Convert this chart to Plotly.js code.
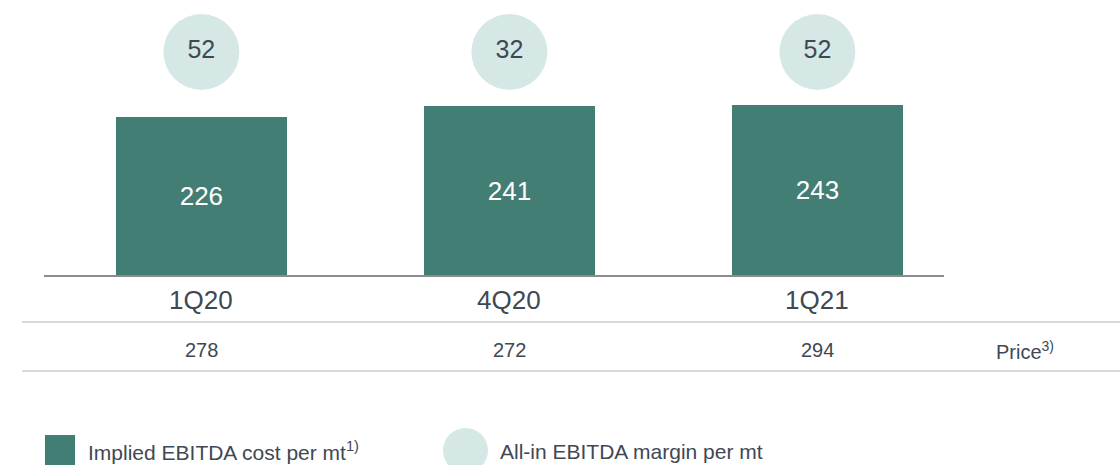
<!DOCTYPE html>
<html>
<head>
<meta charset="utf-8">
<script src="https://cdn.plot.ly/plotly-3.0.1.min.js"></script>
<style>html,body{margin:0;padding:0;background:#fff;}#chart{width:1120px;height:465px;}</style>
</head>
<body>
<div id="chart"></div>
<script>
// ---- data ----
const categories = ["1Q20", "4Q20", "1Q21"];
const ebitdaCost = [226, 241, 243];
const ebitdaMargin = [52, 32, 52];
const prices = [278, 272, 294];
const priceLabel = "Price<sup>3)</sup>";
const legendCost = "Implied EBITDA cost per mt<sup>1)</sup>";
const legendMargin = "All-in EBITDA margin per mt";

// ---- styling ----
const W = 1120, H = 465;
const FONT = "Liberation Sans, Arial, sans-serif";
const TEXT = "#3f4853";
const BAR = "#437e75";
const CIRCLE = "#d5e8e6";
const px = x => x / W;           // pixel -> paper x
const py = y => 1 - y / H;       // pixel -> paper y

const plotTop = 0, plotBottom = 275; // plot area pixels

const traces = [
  {
    type: "bar",
    x: categories,
    y: ebitdaCost,
    width: 0.555,
    marker: {color: BAR, line: {width: 0}},
    text: ebitdaCost.map(String),
    textposition: "inside",
    insidetextanchor: "middle",
    textfont: {family: FONT, size: 26, color: "#ffffff"},
    hoverinfo: "skip",
    showlegend: false,
    cliponaxis: false
  },
  {
    type: "scatter",
    mode: "markers+text",
    x: categories,
    y: categories.map(() => 1 - 52 / (plotBottom - plotTop)),
    yaxis: "y2",
    marker: {size: 76, color: CIRCLE, line: {width: 0}},
    text: ebitdaMargin.map(String),
    textposition: "middle center",
    textfont: {family: FONT, size: 25, color: TEXT},
    hoverinfo: "skip",
    showlegend: false,
    cliponaxis: false
  }
];

const annotations = [];
categories.forEach((c, i) => {
  annotations.push({
    x: c, xref: "x", y: py(300), yref: "paper",
    text: c, showarrow: false, xanchor: "center", yanchor: "middle",
    font: {family: FONT, size: 26, color: TEXT}
  });
  annotations.push({
    x: c, xref: "x", y: py(350), yref: "paper",
    text: String(prices[i]), showarrow: false, xanchor: "center", yanchor: "middle",
    font: {family: FONT, size: 20, color: TEXT}
  });
});
annotations.push({
  x: px(994), xref: "paper", y: py(350), yref: "paper",
  text: priceLabel, showarrow: false, xanchor: "left", yanchor: "middle",
  font: {family: FONT, size: 20, color: TEXT}
});
annotations.push({
  x: px(86), xref: "paper", y: py(451), yref: "paper",
  text: legendCost, showarrow: false, xanchor: "left", yanchor: "middle",
  font: {family: FONT, size: 21, color: TEXT}
});
annotations.push({
  x: px(498), xref: "paper", y: py(451), yref: "paper",
  text: legendMargin, showarrow: false, xanchor: "left", yanchor: "middle",
  font: {family: FONT, size: 21, color: TEXT}
});

const shapes = [
  {type: "line", xref: "paper", yref: "paper", x0: px(22), x1: 1, y0: py(322), y1: py(322),
   line: {color: "#d9d9d9", width: 2}},
  {type: "line", xref: "paper", yref: "paper", x0: px(22), x1: 1, y0: py(371), y1: py(371),
   line: {color: "#d9d9d9", width: 2}},
  {type: "rect", xref: "paper", yref: "paper", x0: px(45), x1: px(75), y0: py(435), y1: py(475),
   fillcolor: BAR, line: {width: 0}},
  {type: "circle", xref: "paper", yref: "paper", x0: px(443), x1: px(488), y0: py(428), y1: py(473),
   fillcolor: CIRCLE, line: {width: 0}}
];

const layout = {
  width: W, height: H,
  margin: {l: 0, r: 0, t: 0, b: 0, pad: 0},
  paper_bgcolor: "#ffffff",
  plot_bgcolor: "rgba(0,0,0,0)",
  showlegend: false,
  xaxis: {
    domain: [px(44), px(944)],
    type: "category",
    range: [-0.511, 2.411],
    showticklabels: false,
    ticks: "",
    showgrid: false,
    zeroline: false,
    showline: true,
    linecolor: "#8c8c8c",
    linewidth: 2,
    fixedrange: true
  },
  yaxis: {
    domain: [py(plotBottom), py(plotTop)],
    range: [0, (plotBottom - plotTop) / 0.7],
    showticklabels: false,
    ticks: "",
    showgrid: false,
    zeroline: false,
    showline: false,
    fixedrange: true
  },
  yaxis2: {
    overlaying: "y",
    range: [0, 1],
    visible: false,
    fixedrange: true
  },
  bargap: 0,
  annotations: annotations,
  shapes: shapes
};

Plotly.newPlot("chart", traces, layout, {displayModeBar: false, staticPlot: true});
</script>
</body>
</html>
